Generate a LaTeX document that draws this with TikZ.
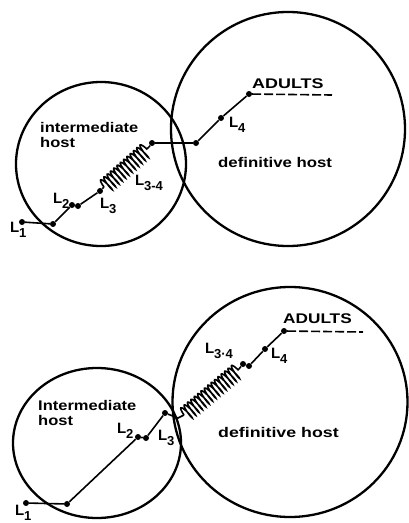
\documentclass[tikz,border=0pt]{standalone}
\usepackage{fontspec}
\newfontfamily\labfont{Liberation Sans}
\usetikzlibrary{decorations.pathmorphing}
% larval stage label: L with a lowered index
\newcommand\Lsub[1]{L\kern-0.3pt\raisebox{-5.5pt}{\fontsize{13}{13}\selectfont #1}}
\newcommand\wide[2]{\scalebox{#1}[1]{#2}}
\begin{document}
\begin{tikzpicture}[x=1pt,y=-1pt,
  host/.style={line width=2.3pt},
  route/.style={line width=1.6pt},
  stage/.style={circle,fill=black,inner sep=0pt,minimum size=6pt},
  spring/.style={line width=1.6pt,decorate,decoration={coil,segment length=4.4pt,amplitude=7.5pt,aspect=0.15}},
  tail/.style={route,dash pattern=on 9pt off 3pt},
  txt/.style={inner sep=0pt,anchor=base west,font=\labfont\bfseries\fontsize{14}{15}\selectfont},
  lab/.style={inner sep=0pt,anchor=base west,font=\labfont\bfseries\fontsize{15}{15}\selectfont}]
\useasboundingbox (0,0) rectangle (408,523);

% ---------- upper cycle ----------
\draw[host] (101,164) ellipse [x radius=85,y radius=82];
\draw[host] (288,129) circle [radius=117];

\node[stage] (t1)  at (22,222) {};
\node[stage] (t1b) at (53,224) {};
\node[stage] (t2a) at (72,205) {};
\node[stage] (t2b) at (78,206) {};
\node[stage] (t3)  at (100,191) {};
\coordinate (tc1) at (104,187);
\coordinate (tc2) at (149,147);
\node[stage] (t34) at (152,143) {};
\node[stage] (tx)  at (196,143) {};
\node[stage] (t4)  at (221,118) {};
\node[stage] (ta)  at (249,94) {};
\coordinate (tend) at (332,95);

\draw[route] (t1) -- (t1b) -- (t2a) -- (t2b) -- (t3) -- (tc1);
\draw[spring] (tc1) -- (tc2);
\draw[route] (tc2) -- (t34) -- (tx) -- (t4) -- (ta);
\draw[tail] (ta) -- (tend);

\node[txt] (ihost1) at (40,132) {\wide{1.18}{intermediate}};
\node[txt] (ihost2) at (40,147) {\wide{1.18}{host}};
\node[txt] (dhost1) at (218,167) {\wide{1.2}{definitive host}};
\node[txt] (adult1) at (252,88) {\wide{1.28}{ADULTS}};

\node[lab] (lt1)  at (10,232)  {\Lsub{1}};
\node[lab] (lt2)  at (53,203)  {\Lsub{2}};
\node[lab] (lt3)  at (100,208) {\Lsub{3}};
\node[lab] (lt34) at (135,185) {\Lsub{3-4}};
\node[lab] (lt4)  at (229,127) {\Lsub{4}};

% ---------- lower cycle ----------
\draw[host] (97,443) ellipse [x radius=84,y radius=75];
\draw[host] (290,402) ellipse [x radius=117.5,y radius=115];

\node[stage] (b1)  at (26,503) {};
\node[stage] (b1b) at (67,504) {};
\node[stage] (b2a) at (138,437) {};
\node[stage] (b2b) at (146,438) {};
\node[stage] (b3)  at (165,413) {};
\coordinate (bk)  at (178,418);
\coordinate (bc1) at (184,415);
\coordinate (bc2) at (239,369);
\node[stage] (b34a) at (243,364) {};
\node[stage] (b34b) at (249,366) {};
\node[stage] (b4)  at (265,349) {};
\node[stage] (ba)  at (284,331) {};
\coordinate (bend) at (363,332);

\draw[route] (b1) -- (b1b) -- (b2a) -- (b2b) -- (b3) -- (bk) -- (bc1);
\draw[spring] (bc1) -- (bc2);
\draw[route] (bc2) -- (b34a) -- (b34b) -- (b4) -- (ba);
\draw[tail] (ba) -- (bend);

\node[txt] (ihost3) at (38,410) {\wide{1.18}{Intermediate}};
\node[txt] (ihost4) at (38,425) {\wide{1.18}{host}};
\node[txt] (dhost2) at (218,437) {\wide{1.27}{definitive host}};
\node[txt] (adult2) at (283,323) {\wide{1.23}{ADULTS}};

\node[lab] (lb1)  at (15,515)  {\Lsub{1}};
\node[lab] (lb2)  at (117,433) {\Lsub{2}};
\node[lab] (lb3)  at (158,440) {\Lsub{3}};
\node[lab] (lb34) at (205,353) {\Lsub{3·4}};
\node[lab] (lb4)  at (271,358) {\Lsub{4}};
\end{tikzpicture}
\end{document}
